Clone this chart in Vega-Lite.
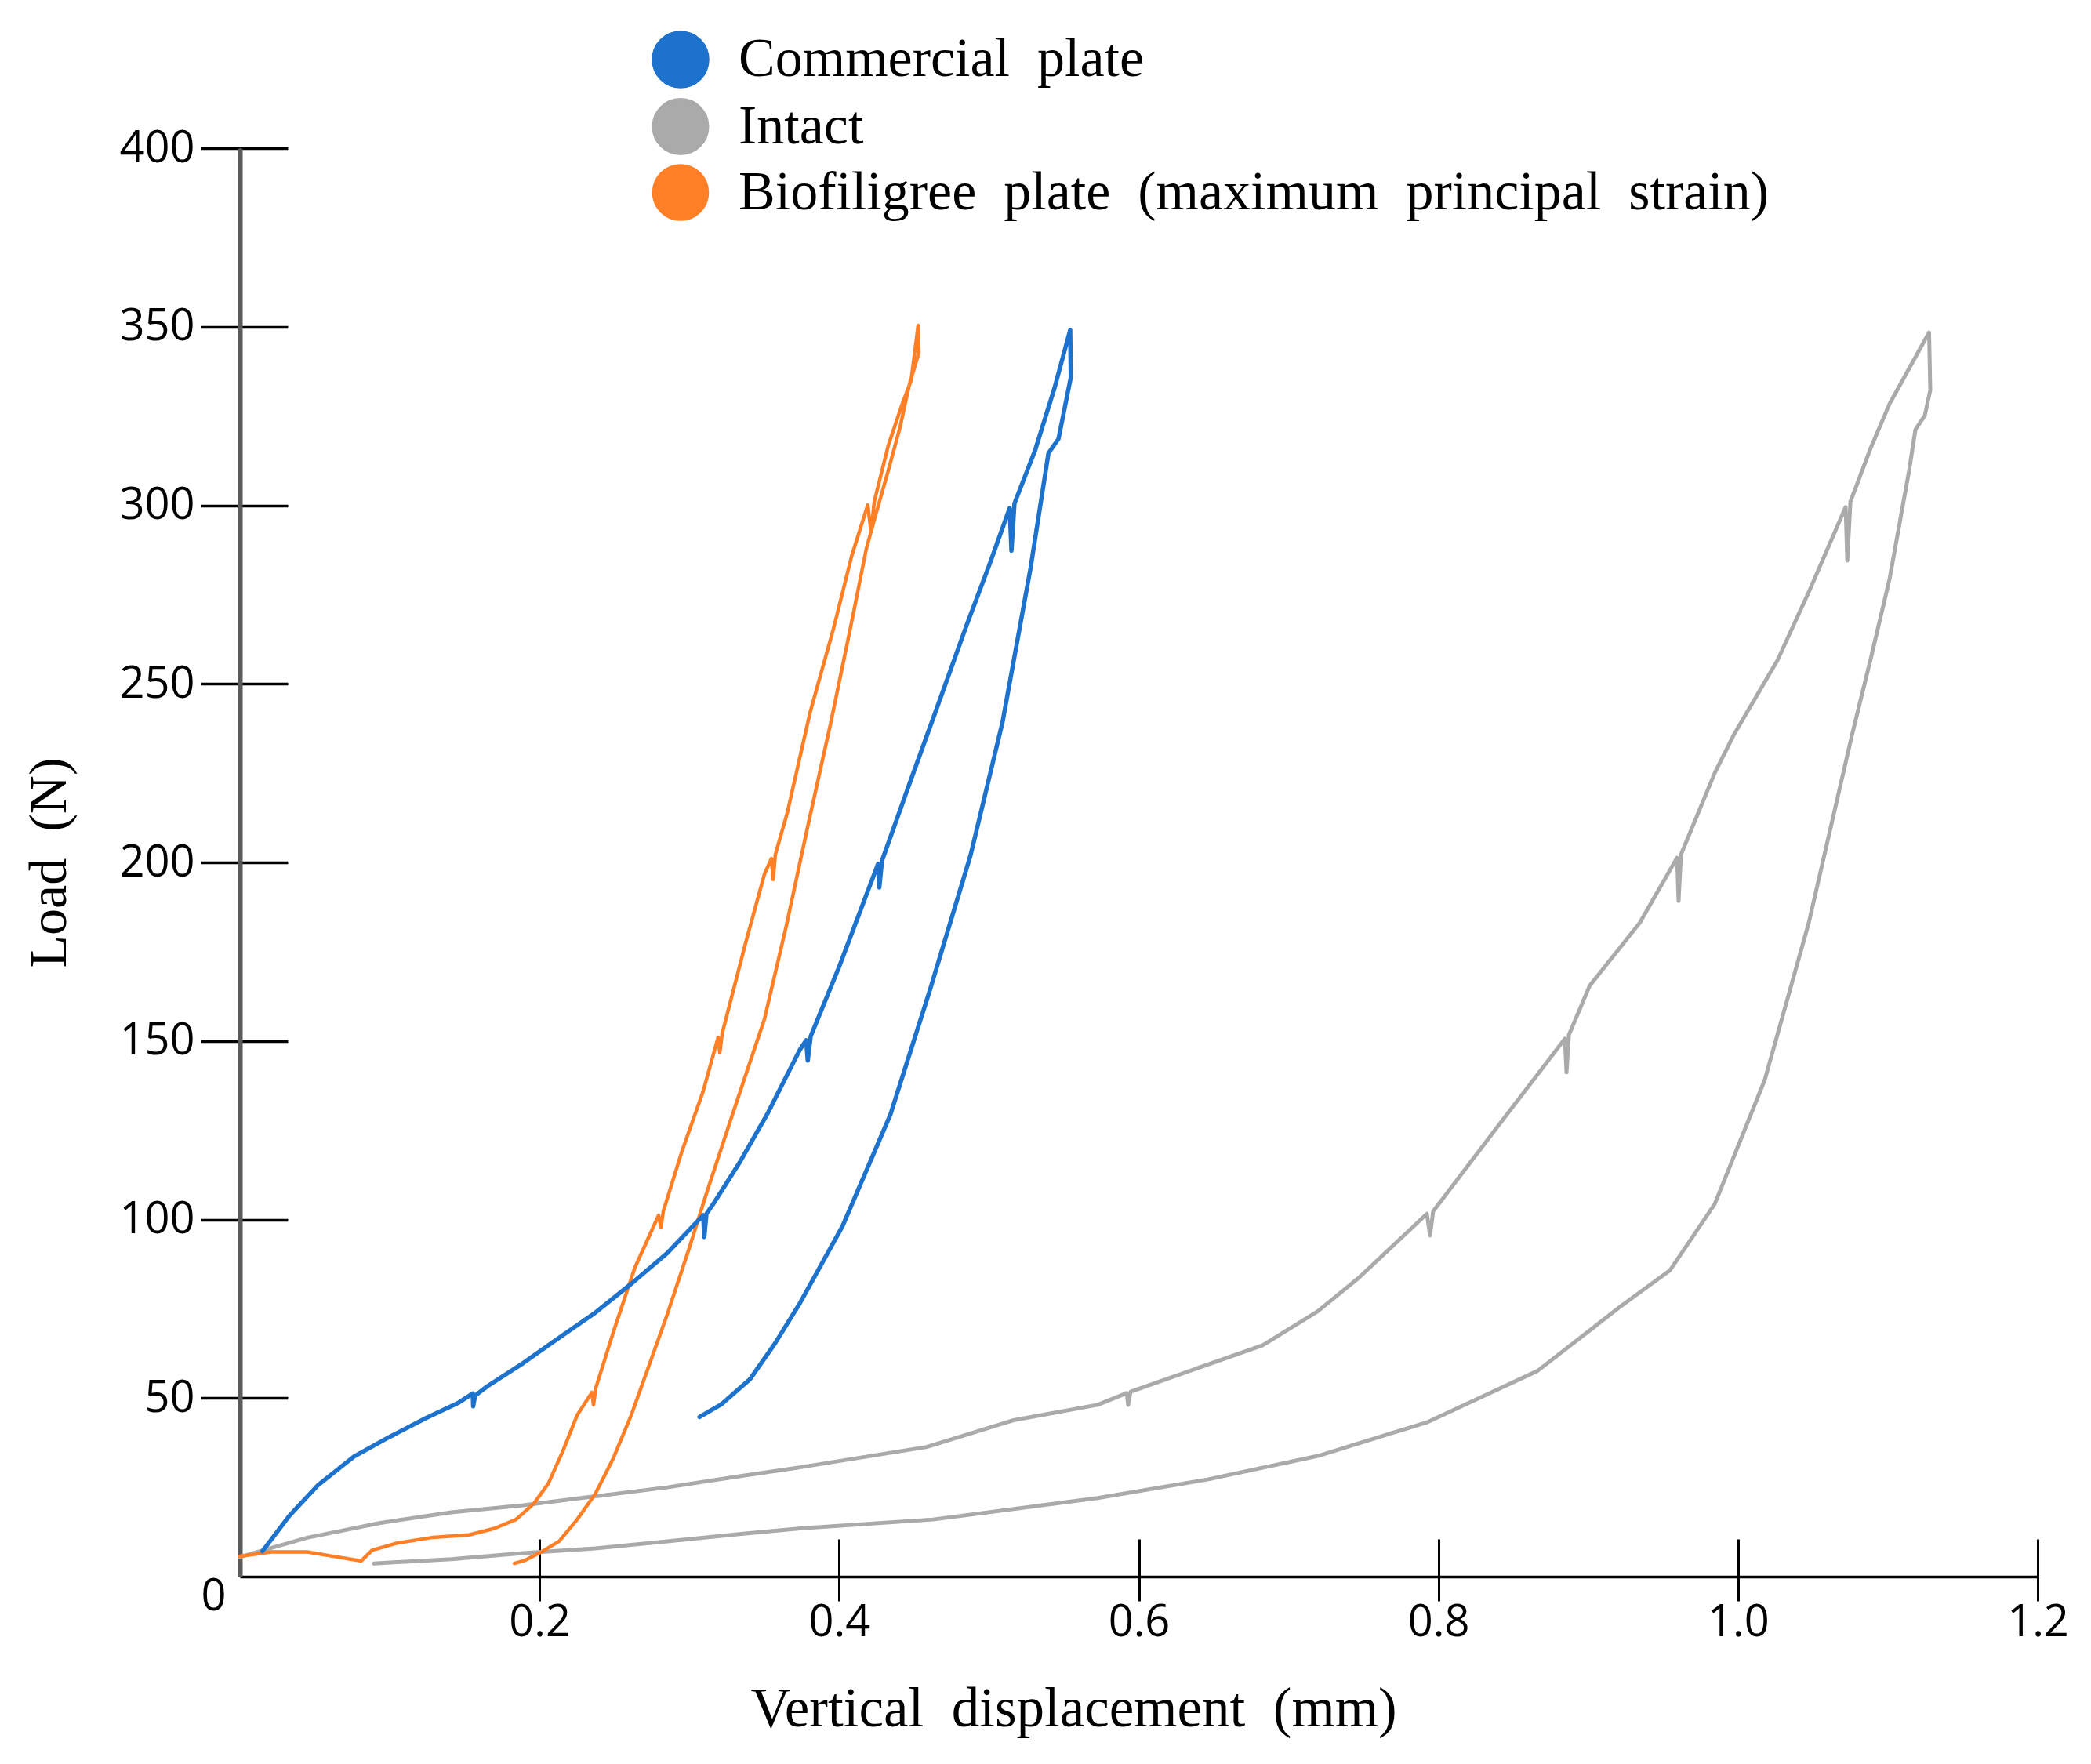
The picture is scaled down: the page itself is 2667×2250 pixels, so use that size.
{
  "$schema": "https://vega.github.io/schema/vega-lite/v6.json",
  "width": 2293,
  "height": 1822,
  "autosize": {"type": "none"},
  "padding": {"left": 306, "top": 189, "right": 68, "bottom": 239},
  "background": "white",
  "config": {"view": {"stroke": null}},
  "data": {
    "values": [
      {"series": "Intact", "i": 0, "disp": 0.0, "load": 5.5},
      {"series": "Intact", "i": 1, "disp": 0.0449, "load": 10.9},
      {"series": "Intact", "i": 2, "disp": 0.093, "load": 15.0},
      {"series": "Intact", "i": 3, "disp": 0.141, "load": 18.0},
      {"series": "Intact", "i": 4, "disp": 0.1891, "load": 20.0},
      {"series": "Intact", "i": 5, "disp": 0.2371, "load": 22.5},
      {"series": "Intact", "i": 6, "disp": 0.2852, "load": 25.0},
      {"series": "Intact", "i": 7, "disp": 0.3333, "load": 28.1},
      {"series": "Intact", "i": 8, "disp": 0.3737, "load": 30.6},
      {"series": "Intact", "i": 9, "disp": 0.4584, "load": 36.3},
      {"series": "Intact", "i": 10, "disp": 0.5164, "load": 43.8},
      {"series": "Intact", "i": 11, "disp": 0.5725, "load": 48.1},
      {"series": "Intact", "i": 12, "disp": 0.5919, "load": 51.4},
      {"series": "Intact", "i": 13, "disp": 0.5929, "load": 48.1},
      {"series": "Intact", "i": 14, "disp": 0.5945, "load": 51.8},
      {"series": "Intact", "i": 15, "disp": 0.6827, "load": 64.8},
      {"series": "Intact", "i": 16, "disp": 0.7194, "load": 74.3},
      {"series": "Intact", "i": 17, "disp": 0.7466, "load": 83.6},
      {"series": "Intact", "i": 18, "disp": 0.7923, "load": 101.6},
      {"series": "Intact", "i": 19, "disp": 0.7944, "load": 95.5},
      {"series": "Intact", "i": 20, "disp": 0.7965, "load": 102.3},
      {"series": "Intact", "i": 21, "disp": 0.8384, "load": 125.4},
      {"series": "Intact", "i": 22, "disp": 0.8844, "load": 150.6},
      {"series": "Intact", "i": 23, "disp": 0.8855, "load": 141.2},
      {"series": "Intact", "i": 24, "disp": 0.8871, "load": 151.7},
      {"series": "Intact", "i": 25, "disp": 0.901, "load": 165.5},
      {"series": "Intact", "i": 26, "disp": 0.9344, "load": 183.1},
      {"series": "Intact", "i": 27, "disp": 0.9593, "load": 201.3},
      {"series": "Intact", "i": 28, "disp": 0.9603, "load": 189.2},
      {"series": "Intact", "i": 29, "disp": 0.9619, "load": 202.2},
      {"series": "Intact", "i": 30, "disp": 0.9844, "load": 225.0},
      {"series": "Intact", "i": 31, "disp": 0.997, "load": 235.6},
      {"series": "Intact", "i": 32, "disp": 1.0263, "load": 256.6},
      {"series": "Intact", "i": 33, "disp": 1.0472, "load": 275.7},
      {"series": "Intact", "i": 34, "disp": 1.0718, "load": 299.5},
      {"series": "Intact", "i": 35, "disp": 1.0729, "load": 284.5},
      {"series": "Intact", "i": 36, "disp": 1.075, "load": 301.0},
      {"series": "Intact", "i": 37, "disp": 1.0886, "load": 316.1},
      {"series": "Intact", "i": 38, "disp": 1.1011, "load": 328.4},
      {"series": "Intact", "i": 39, "disp": 1.1275, "load": 348.4},
      {"series": "Intact", "i": 40, "disp": 1.1283, "load": 332.2},
      {"series": "Intact", "i": 41, "disp": 1.1246, "load": 325.1},
      {"series": "Intact", "i": 42, "disp": 1.1184, "load": 321.2},
      {"series": "Intact", "i": 43, "disp": 1.1142, "load": 309.8},
      {"series": "Intact", "i": 44, "disp": 1.1011, "load": 279.3},
      {"series": "Intact", "i": 45, "disp": 1.0886, "load": 257.1},
      {"series": "Intact", "i": 46, "disp": 1.076, "load": 235.6},
      {"series": "Intact", "i": 47, "disp": 1.0472, "load": 183.1},
      {"series": "Intact", "i": 48, "disp": 1.0179, "load": 139.2},
      {"series": "Intact", "i": 49, "disp": 0.9844, "load": 104.3},
      {"series": "Intact", "i": 50, "disp": 0.9546, "load": 85.8},
      {"series": "Intact", "i": 51, "disp": 0.9211, "load": 75.5},
      {"series": "Intact", "i": 52, "disp": 0.8661, "load": 57.6},
      {"series": "Intact", "i": 53, "disp": 0.7929, "load": 43.3},
      {"series": "Intact", "i": 54, "disp": 0.7196, "load": 33.8},
      {"series": "Intact", "i": 55, "disp": 0.6458, "load": 27.2},
      {"series": "Intact", "i": 56, "disp": 0.5725, "load": 22.0},
      {"series": "Intact", "i": 57, "disp": 0.4626, "load": 16.0},
      {"series": "Intact", "i": 58, "disp": 0.3737, "load": 13.5},
      {"series": "Intact", "i": 59, "disp": 0.3333, "load": 11.9},
      {"series": "Intact", "i": 60, "disp": 0.2852, "load": 9.9},
      {"series": "Intact", "i": 61, "disp": 0.2371, "load": 7.9},
      {"series": "Intact", "i": 62, "disp": 0.1891, "load": 6.6},
      {"series": "Intact", "i": 63, "disp": 0.141, "load": 4.9},
      {"series": "Intact", "i": 64, "disp": 0.0894, "load": 3.7},

      {"series": "Biofiligree plate (maximum principal strain)", "i": 0, "disp": 0.0, "load": 5.7},
      {"series": "Biofiligree plate (maximum principal strain)", "i": 1, "disp": 0.0209, "load": 6.9},
      {"series": "Biofiligree plate (maximum principal strain)", "i": 2, "disp": 0.0449, "load": 6.9},
      {"series": "Biofiligree plate (maximum principal strain)", "i": 3, "disp": 0.0593, "load": 5.9},
      {"series": "Biofiligree plate (maximum principal strain)", "i": 4, "disp": 0.081, "load": 4.4},
      {"series": "Biofiligree plate (maximum principal strain)", "i": 5, "disp": 0.0882, "load": 7.4},
      {"series": "Biofiligree plate (maximum principal strain)", "i": 6, "disp": 0.105, "load": 9.4},
      {"series": "Biofiligree plate (maximum principal strain)", "i": 7, "disp": 0.129, "load": 11.0},
      {"series": "Biofiligree plate (maximum principal strain)", "i": 8, "disp": 0.153, "load": 11.7},
      {"series": "Biofiligree plate (maximum principal strain)", "i": 9, "disp": 0.1699, "load": 13.5},
      {"series": "Biofiligree plate (maximum principal strain)", "i": 10, "disp": 0.1843, "load": 16.0},
      {"series": "Biofiligree plate (maximum principal strain)", "i": 11, "disp": 0.1963, "load": 20.5},
      {"series": "Biofiligree plate (maximum principal strain)", "i": 12, "disp": 0.2059, "load": 26.1},
      {"series": "Biofiligree plate (maximum principal strain)", "i": 13, "disp": 0.2155, "load": 35.1},
      {"series": "Biofiligree plate (maximum principal strain)", "i": 14, "disp": 0.2251, "load": 45.2},
      {"series": "Biofiligree plate (maximum principal strain)", "i": 15, "disp": 0.235, "load": 51.6},
      {"series": "Biofiligree plate (maximum principal strain)", "i": 16, "disp": 0.236, "load": 48.1},
      {"series": "Biofiligree plate (maximum principal strain)", "i": 17, "disp": 0.2376, "load": 52.9},
      {"series": "Biofiligree plate (maximum principal strain)", "i": 18, "disp": 0.2492, "load": 68.4},
      {"series": "Biofiligree plate (maximum principal strain)", "i": 19, "disp": 0.2636, "load": 86.5},
      {"series": "Biofiligree plate (maximum principal strain)", "i": 20, "disp": 0.2795, "load": 101.2},
      {"series": "Biofiligree plate (maximum principal strain)", "i": 21, "disp": 0.281, "load": 97.7},
      {"series": "Biofiligree plate (maximum principal strain)", "i": 22, "disp": 0.2826, "load": 102.3},
      {"series": "Biofiligree plate (maximum principal strain)", "i": 23, "disp": 0.2948, "load": 118.8},
      {"series": "Biofiligree plate (maximum principal strain)", "i": 24, "disp": 0.3092, "load": 135.9},
      {"series": "Biofiligree plate (maximum principal strain)", "i": 25, "disp": 0.3192, "load": 151.0},
      {"series": "Biofiligree plate (maximum principal strain)", "i": 26, "disp": 0.3203, "load": 146.7},
      {"series": "Biofiligree plate (maximum principal strain)", "i": 27, "disp": 0.3219, "load": 152.1},
      {"series": "Biofiligree plate (maximum principal strain)", "i": 28, "disp": 0.3377, "load": 177.7},
      {"series": "Biofiligree plate (maximum principal strain)", "i": 29, "disp": 0.3501, "load": 196.7},
      {"series": "Biofiligree plate (maximum principal strain)", "i": 30, "disp": 0.3548, "load": 201.1},
      {"series": "Biofiligree plate (maximum principal strain)", "i": 31, "disp": 0.3559, "load": 195.2},
      {"series": "Biofiligree plate (maximum principal strain)", "i": 32, "disp": 0.3574, "load": 202.2},
      {"series": "Biofiligree plate (maximum principal strain)", "i": 33, "disp": 0.3653, "load": 213.8},
      {"series": "Biofiligree plate (maximum principal strain)", "i": 34, "disp": 0.3807, "load": 242.2},
      {"series": "Biofiligree plate (maximum principal strain)", "i": 35, "disp": 0.3961, "load": 265.3},
      {"series": "Biofiligree plate (maximum principal strain)", "i": 36, "disp": 0.4084, "load": 285.9},
      {"series": "Biofiligree plate (maximum principal strain)", "i": 37, "disp": 0.4191, "load": 300.1},
      {"series": "Biofiligree plate (maximum principal strain)", "i": 38, "disp": 0.4213, "load": 292.4},
      {"series": "Biofiligree plate (maximum principal strain)", "i": 39, "disp": 0.4234, "load": 301.0},
      {"series": "Biofiligree plate (maximum principal strain)", "i": 40, "disp": 0.4328, "load": 316.8},
      {"series": "Biofiligree plate (maximum principal strain)", "i": 41, "disp": 0.4422, "load": 328.5},
      {"series": "Biofiligree plate (maximum principal strain)", "i": 42, "disp": 0.448, "load": 334.9},
      {"series": "Biofiligree plate (maximum principal strain)", "i": 43, "disp": 0.4527, "load": 350.4},
      {"series": "Biofiligree plate (maximum principal strain)", "i": 44, "disp": 0.4532, "load": 342.7},
      {"series": "Biofiligree plate (maximum principal strain)", "i": 45, "disp": 0.4469, "load": 333.9},
      {"series": "Biofiligree plate (maximum principal strain)", "i": 46, "disp": 0.4406, "load": 321.8},
      {"series": "Biofiligree plate (maximum principal strain)", "i": 47, "disp": 0.4328, "load": 309.8},
      {"series": "Biofiligree plate (maximum principal strain)", "i": 48, "disp": 0.4239, "load": 296.6},
      {"series": "Biofiligree plate (maximum principal strain)", "i": 49, "disp": 0.4181, "load": 287.8},
      {"series": "Biofiligree plate (maximum principal strain)", "i": 50, "disp": 0.4087, "load": 268.1},
      {"series": "Biofiligree plate (maximum principal strain)", "i": 51, "disp": 0.3946, "load": 239.5},
      {"series": "Biofiligree plate (maximum principal strain)", "i": 52, "disp": 0.3789, "load": 209.9},
      {"series": "Biofiligree plate (maximum principal strain)", "i": 53, "disp": 0.3648, "load": 182.4},
      {"series": "Biofiligree plate (maximum principal strain)", "i": 54, "disp": 0.3501, "load": 156.1},
      {"series": "Biofiligree plate (maximum principal strain)", "i": 55, "disp": 0.338, "load": 141.0},
      {"series": "Biofiligree plate (maximum principal strain)", "i": 56, "disp": 0.326, "load": 125.9},
      {"series": "Biofiligree plate (maximum principal strain)", "i": 57, "disp": 0.3117, "load": 107.7},
      {"series": "Biofiligree plate (maximum principal strain)", "i": 58, "disp": 0.2996, "load": 91.6},
      {"series": "Biofiligree plate (maximum principal strain)", "i": 59, "disp": 0.2852, "load": 73.4},
      {"series": "Biofiligree plate (maximum principal strain)", "i": 60, "disp": 0.2732, "load": 59.3},
      {"series": "Biofiligree plate (maximum principal strain)", "i": 61, "disp": 0.2612, "load": 45.2},
      {"series": "Biofiligree plate (maximum principal strain)", "i": 62, "disp": 0.2492, "load": 33.1},
      {"series": "Biofiligree plate (maximum principal strain)", "i": 63, "disp": 0.2371, "load": 23.1},
      {"series": "Biofiligree plate (maximum principal strain)", "i": 64, "disp": 0.2251, "load": 16.0},
      {"series": "Biofiligree plate (maximum principal strain)", "i": 65, "disp": 0.2131, "load": 9.9},
      {"series": "Biofiligree plate (maximum principal strain)", "i": 66, "disp": 0.2011, "load": 6.9},
      {"series": "Biofiligree plate (maximum principal strain)", "i": 67, "disp": 0.1905, "load": 4.6},
      {"series": "Biofiligree plate (maximum principal strain)", "i": 68, "disp": 0.1832, "load": 3.7},

      {"series": "Commercial plate", "i": 0, "disp": 0.015, "load": 7.1},
      {"series": "Commercial plate", "i": 1, "disp": 0.0329, "load": 17.0},
      {"series": "Commercial plate", "i": 2, "disp": 0.0521, "load": 25.6},
      {"series": "Commercial plate", "i": 3, "disp": 0.0761, "load": 33.6},
      {"series": "Commercial plate", "i": 4, "disp": 0.1002, "load": 39.2},
      {"series": "Commercial plate", "i": 5, "disp": 0.1242, "load": 44.4},
      {"series": "Commercial plate", "i": 6, "disp": 0.1459, "load": 48.7},
      {"series": "Commercial plate", "i": 7, "disp": 0.1554, "load": 51.3},
      {"series": "Commercial plate", "i": 8, "disp": 0.1557, "load": 47.7},
      {"series": "Commercial plate", "i": 9, "disp": 0.157, "load": 50.7},
      {"series": "Commercial plate", "i": 10, "disp": 0.1651, "load": 53.3},
      {"series": "Commercial plate", "i": 11, "disp": 0.1891, "load": 59.8},
      {"series": "Commercial plate", "i": 12, "disp": 0.2131, "load": 66.9},
      {"series": "Commercial plate", "i": 13, "disp": 0.2371, "load": 73.9},
      {"series": "Commercial plate", "i": 14, "disp": 0.2612, "load": 82.0},
      {"series": "Commercial plate", "i": 15, "disp": 0.2852, "load": 90.6},
      {"series": "Commercial plate", "i": 16, "disp": 0.3092, "load": 101.2},
      {"series": "Commercial plate", "i": 17, "disp": 0.31, "load": 95.1},
      {"series": "Commercial plate", "i": 18, "disp": 0.3114, "load": 101.6},
      {"series": "Commercial plate", "i": 19, "disp": 0.3165, "load": 104.7},
      {"series": "Commercial plate", "i": 20, "disp": 0.3333, "load": 115.8},
      {"series": "Commercial plate", "i": 21, "disp": 0.3525, "load": 129.9},
      {"series": "Commercial plate", "i": 22, "disp": 0.3737, "load": 147.5},
      {"series": "Commercial plate", "i": 23, "disp": 0.378, "load": 150.2},
      {"series": "Commercial plate", "i": 24, "disp": 0.379, "load": 144.5},
      {"series": "Commercial plate", "i": 25, "disp": 0.381, "load": 151.3},
      {"series": "Commercial plate", "i": 26, "disp": 0.3998, "load": 170.6},
      {"series": "Commercial plate", "i": 27, "disp": 0.426, "load": 199.6},
      {"series": "Commercial plate", "i": 28, "disp": 0.4268, "load": 193.0},
      {"series": "Commercial plate", "i": 29, "disp": 0.4286, "load": 200.5},
      {"series": "Commercial plate", "i": 30, "disp": 0.4469, "load": 222.0},
      {"series": "Commercial plate", "i": 31, "disp": 0.4658, "load": 243.9},
      {"series": "Commercial plate", "i": 32, "disp": 0.4846, "load": 265.9},
      {"series": "Commercial plate", "i": 33, "disp": 0.5003, "load": 283.4},
      {"series": "Commercial plate", "i": 34, "disp": 0.5138, "load": 299.2},
      {"series": "Commercial plate", "i": 35, "disp": 0.515, "load": 287.3},
      {"series": "Commercial plate", "i": 36, "disp": 0.517, "load": 300.5},
      {"series": "Commercial plate", "i": 37, "disp": 0.5307, "load": 315.3},
      {"series": "Commercial plate", "i": 38, "disp": 0.5437, "load": 332.8},
      {"series": "Commercial plate", "i": 39, "disp": 0.5542, "load": 349.1},
      {"series": "Commercial plate", "i": 40, "disp": 0.5546, "load": 335.8},
      {"series": "Commercial plate", "i": 41, "disp": 0.5464, "load": 318.6},
      {"series": "Commercial plate", "i": 42, "disp": 0.5397, "load": 314.6},
      {"series": "Commercial plate", "i": 43, "disp": 0.5277, "load": 282.3},
      {"series": "Commercial plate", "i": 44, "disp": 0.509, "load": 239.2},
      {"series": "Commercial plate", "i": 45, "disp": 0.4877, "load": 202.0},
      {"series": "Commercial plate", "i": 46, "disp": 0.4609, "load": 164.7},
      {"series": "Commercial plate", "i": 47, "disp": 0.4342, "load": 129.4},
      {"series": "Commercial plate", "i": 48, "disp": 0.4022, "load": 98.1},
      {"series": "Commercial plate", "i": 49, "disp": 0.3737, "load": 76.5},
      {"series": "Commercial plate", "i": 50, "disp": 0.3573, "load": 65.4},
      {"series": "Commercial plate", "i": 51, "disp": 0.3405, "load": 55.3},
      {"series": "Commercial plate", "i": 52, "disp": 0.3212, "load": 48.2},
      {"series": "Commercial plate", "i": 53, "disp": 0.3068, "load": 44.7}
    ]
  },
  "encoding": {
    "color": {
      "field": "series",
      "type": "nominal",
      "scale": {
        "domain": ["Commercial plate", "Intact", "Biofiligree plate (maximum principal strain)"],
        "range": ["#1c72cc", "#aaaaaa", "#ff7f27"]
      },
      "legend": {
        "orient": "none",
        "legendX": 525,
        "legendY": -150,
        "title": null,
        "padding": 0,
        "symbolType": "circle",
        "symbolSize": 4624,
        "symbolStrokeWidth": 0,
        "symbolOpacity": 1,
        "labelFont": "Liberation Serif",
        "labelFontSize": 70,
        "labelColor": "#000000",
        "labelOffset": 37,
        "labelLimit": 0,
        "rowPadding": -4,
        "labelExpr": "replace(datum.label, / /g, '\u00a0 ')",
        "encode": {
          "symbols": {
            "update": {
              "fill": {"scale": "color", "field": "value"},
              "stroke": {"value": "transparent"},
              "opacity": {"value": 1}
            }
          }
        }
      }
    },
    "strokeWidth": {
      "field": "series",
      "type": "nominal",
      "scale": {
        "domain": ["Commercial plate", "Intact", "Biofiligree plate (maximum principal strain)"],
        "range": [5.5, 4.5, 5.5]
      },
      "legend": null
    },
    "order": {"field": "i", "type": "quantitative"}
  },
  "layer": [
    {
      "transform": [{"filter": "datum.series === 'Intact'"}],
      "mark": {"type": "line", "strokeJoin": "round", "strokeCap": "round"},
      "encoding": {
        "x": {
          "field": "disp",
          "type": "quantitative",
          "scale": {"domain": [0, 1.2], "nice": false, "zero": false},
          "axis": {
            "orient": "bottom",
            "values": [0.2, 0.4, 0.6, 0.8, 1.0, 1.2],
            "grid": false,
            "domain": false,
            "labels": false,
            "title": null,
            "tickSize": -48,
            "tickWidth": 3,
            "tickColor": "#000000"
          }
        },
        "y": {
          "field": "load",
          "type": "quantitative",
          "scale": {"domain": [0, 400], "nice": false},
          "axis": {
            "orient": "left",
            "values": [50, 100, 150, 200, 250, 300, 350, 400],
            "grid": false,
            "domain": false,
            "labels": false,
            "title": null,
            "tickSize": -61,
            "tickWidth": 3.5,
            "tickColor": "#000000"
          }
        }
      }
    },
    {
      "transform": [{"filter": "datum.series !== 'Intact'"}],
      "mark": {"type": "line", "strokeJoin": "round", "strokeCap": "round"},
      "encoding": {
        "x": {
          "field": "disp",
          "type": "quantitative",
          "scale": {"domain": [0, 1.2], "nice": false, "zero": false},
          "axis": {
            "orient": "bottom",
            "values": [0.2, 0.4, 0.6, 0.8, 1.0, 1.2],
            "format": ".1f",
            "grid": false,
            "labelFlush": false,
            "labelOverlap": false,
            "labelFont": "Open Sans",
            "labelFontSize": 56,
            "labelColor": "#000000",
            "labelPadding": 0,
            "tickSize": 31,
            "tickWidth": 3,
            "tickColor": "#000000",
            "domainColor": "#000000",
            "domainWidth": 3.5,
            "title": "Vertical\u00a0 displacement\u00a0 (mm)",
            "titleFont": "Liberation Serif",
            "titleFontSize": 71,
            "titleFontWeight": "normal",
            "titleColor": "#000000",
            "titleX": 1063,
            "titlePadding": 48
          }
        },
        "y": {
          "field": "load",
          "type": "quantitative",
          "scale": {"domain": [0, 400], "nice": false},
          "axis": {
            "orient": "left",
            "values": [0, 50, 100, 150, 200, 250, 300, 350, 400],
            "grid": false,
            "labelFlush": false,
            "labelOverlap": false,
            "labelFont": "Open Sans",
            "labelFontSize": 56,
            "labelColor": "#000000",
            "labelPadding": {"condition": {"test": "datum.value === 0", "value": -32}, "value": 8},
            "labelOffset": {"condition": {"test": "datum.value === 0", "value": 25}, "value": 0},
            "tickSize": 50,
            "tickWidth": 3.5,
            "tickColor": "#000000",
            "tickOpacity": {"condition": {"test": "datum.value === 0", "value": 0}, "value": 1},
            "domainColor": "#5a5a5a",
            "domainWidth": 6,
            "title": "Load\u00a0 (N)",
            "titleFont": "Liberation Serif",
            "titleFontSize": 68,
            "titleFontWeight": "normal",
            "titleColor": "#000000",
            "titlePadding": 54
          }
        }
      }
    }
  ],
  "resolve": {"axis": {"x": "independent", "y": "independent"}}
}
